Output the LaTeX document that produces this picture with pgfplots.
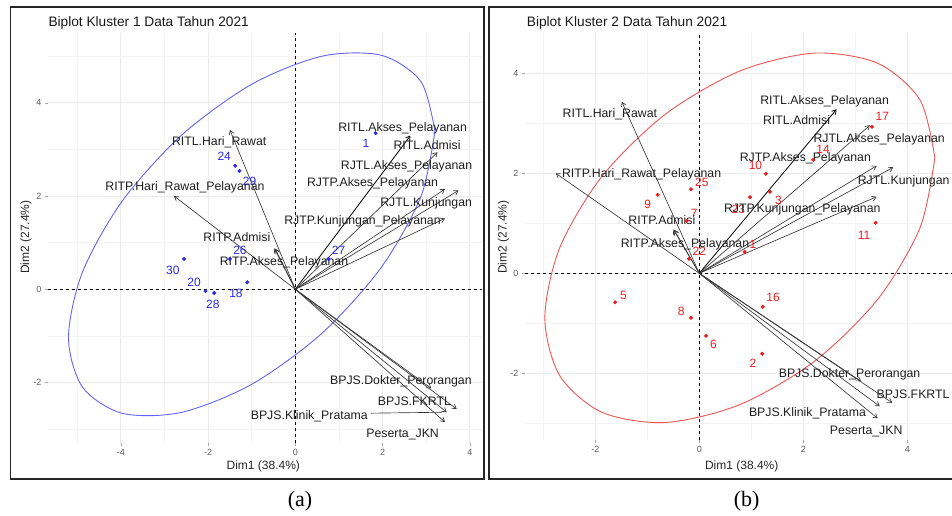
\documentclass[border=0pt]{standalone}
\usepackage{fontspec}
\setmainfont{Liberation Sans}
\newfontfamily\capfont{Liberation Serif}
\usepackage{pgfplots}
\pgfplotsset{compat=1.18}
\usetikzlibrary{arrows.meta}
\definecolor{c1pt}{RGB}{40,40,230}
\definecolor{c1el}{RGB}{100,100,245}
\definecolor{c2pt}{RGB}{235,30,30}
\definecolor{c2el}{RGB}{240,85,85}
\definecolor{arrc}{RGB}{55,55,55}
\definecolor{lblc}{RGB}{30,30,30}
\pgfplotsset{
  bip/.style={
    scale only axis, anchor=south west,
    axis line style={draw=none},
    tick pos=left, tick align=outside,
    major tick length=3pt, minor tick length=0pt,
    tick style={gray!70, line width=0.6pt},
    grid=both,
    major grid style={gray!16, line width=0.8pt},
    minor grid style={gray!9, line width=0.5pt},
    ticklabel style={font=\fontsize{9}{10}\selectfont, text=gray!70!black},
    /pgf/number format/assume math mode=true,
    clip=false,
    xtick={-4,-2,0,2,4}, ytick={-2,0,2,4},
    minor xtick={-5,-3,-1,1,3}, minor ytick={-3,-1,1,3,5},
  },
  arr/.style={arrc, line width=0.65pt, -{Straight Barb[length=4pt,width=5pt]}},
  arrk/.style={black, line width=0.8pt, -{Straight Barb[length=4pt,width=5pt]}},
  zl/.style={black, line width=0.8pt, dash pattern=on 3pt off 3pt},
}
\tikzset{
  lab/.style={font=\fontsize{12.3}{13}\selectfont, text=lblc, inner sep=0pt, anchor=base, yshift=-4.4pt},
  plab/.style={font=\fontsize{12}{13}\selectfont, inner sep=0pt, anchor=base, yshift=-4.3pt},
}
\begin{document}
\begin{tikzpicture}
\useasboundingbox (0pt,0pt) rectangle (952pt,515pt);
\draw[line width=1.2pt, black!85] (10.7pt,36pt) rectangle (484pt,508pt);
\draw[line width=1.2pt, black!85] (952pt,508pt) -- (489pt,508pt) -- (489pt,36pt) -- (952pt,36pt);

% ---------------- Panel (a) ----------------
\begin{axis}[bip, at={(48pt,72pt)}, width=434pt, height=410pt,
  xmin=-5.67, xmax=4.28, ymin=-3.3, ymax=5.5]
\addplot[zl] coordinates {(-5.67,0) (4.28,0)};
\addplot[zl] coordinates {(0,-3.3) (0,5.5)};
% confidence ellipse
\addplot[c1el, line width=0.9pt, smooth] coordinates {
(3.200,3.394) (2.880,4.458) (1.970,5.022) (0.607,5.002) (-1.000,4.400)
(-2.607,3.308) (-3.970,1.891) (-4.880,0.367) (-5.200,-1.034) (-4.880,-2.098)
(-3.970,-2.662) (-2.607,-2.642) (-1.000,-2.040) (0.607,-0.948) (1.970,0.469)
(2.880,1.993) (3.200,3.394)};
% variable arrows
\addplot[arr] coordinates {(0,0) (-1.50,3.42)};
\addplot[arr] coordinates {(0,0) (-2.78,2.00)};
\addplot[arr] coordinates {(0,0) (-0.48,0.88)};
\addplot[arr] coordinates {(0,0) (-0.46,0.86)};
\addplot[arrk] coordinates {(0,0) (2.64,3.30)};
\addplot[arr] coordinates {(0,0) (3.26,2.94)};
\addplot[arr] coordinates {(0,0) (3.43,2.15)};
\addplot[arr] coordinates {(0,0) (3.74,2.12)};
\addplot[arr] coordinates {(0,0) (3.43,1.52)};
\addplot[arr] coordinates {(0,0) (3.12,-2.13)};
\addplot[arr] coordinates {(0,0) (3.70,-2.57)};
\addplot[arr] coordinates {(0,0) (3.47,-2.64)};
\addplot[arr] coordinates {(0,0) (3.43,-2.85)};
\addplot[arrc, line width=0.65pt] coordinates {(1.73,-2.66) (3.36,-2.64)};
% individuals
\addplot[only marks, mark=*, mark size=1.8pt, c1pt] coordinates {
(1.84,3.35) (-1.38,2.65) (-1.28,2.54) (-2.55,0.65) (-2.06,-0.04)
(-1.86,-0.08) (-1.10,0.15) (-1.50,0.65) (0.76,0.65)};
\node[plab, text=c1pt] at (axis cs:1.62,3.13) {1};
\node[plab, text=c1pt] at (axis cs:-1.63,2.86) {24};
\node[plab, text=c1pt] at (axis cs:-1.05,2.32) {29};
\node[plab, text=c1pt] at (axis cs:-2.81,0.40) {30};
\node[plab, text=c1pt] at (axis cs:-2.32,0.16) {20};
\node[plab, text=c1pt] at (axis cs:-1.89,-0.33) {28};
\node[plab, text=c1pt] at (axis cs:-1.36,-0.09) {18};
\node[plab, text=c1pt] at (axis cs:-1.27,0.84) {26};
\node[plab, text=c1pt] at (axis cs:0.99,0.84) {27};
% variable labels
\node[lab] at (axis cs:-1.745,3.18) {RITL.Hari\_Rawat};
\node[lab] at (axis cs:-2.53,2.22) {RITP.Hari\_Rawat\_Pelayanan};
\node[lab] at (axis cs:-1.34,1.12) {RITP.Admisi};
\node[lab] at (axis cs:-0.26,0.61) {RITP.Akses\_Pelayanan};
\node[lab] at (axis cs:2.46,3.49) {RITL.Akses\_Pelayanan};
\node[lab] at (axis cs:3.02,3.09) {RITL.Admisi};
\node[lab] at (axis cs:2.55,2.67) {RJTL.Akses\_Pelayanan};
\node[lab] at (axis cs:1.77,2.29) {RJTP.Akses\_Pelayanan};
\node[lab] at (axis cs:3.00,1.86) {RJTL.Kunjungan};
\node[lab] at (axis cs:1.54,1.49) {RJTP.Kunjungan\_Pelayanan};
\node[lab] at (axis cs:2.42,-1.95) {BPJS.Dokter\_Perorangan};
\node[lab] at (axis cs:2.73,-2.41) {BPJS.FKRTL};
\node[lab] at (axis cs:0.32,-2.70) {BPJS.Klinik\_Pratama};
\node[lab] at (axis cs:2.46,-3.08) {Peserta\_JKN};
\end{axis}

% ---------------- Panel (b) ----------------
\begin{axis}[bip, at={(525pt,75pt)}, width=427pt, height=407pt,
  xmin=-3.352, xmax=4.86, ymin=-3.334, ymax=4.806,
  minor xtick={-3,-1,1,3}, minor ytick={-3,-1,1,3}]
\addplot[zl] coordinates {(-3.352,0) (4.86,0)};
\addplot[zl] coordinates {(0,-3.334) (0,4.806)};
\addplot[c2el, line width=0.9pt, smooth] coordinates {
(4.530,2.310) (4.245,3.465) (3.432,4.200) (2.215,4.404) (0.780,4.046)
(-0.655,3.180) (-1.872,1.938) (-2.685,0.509) (-2.970,-0.890) (-2.685,-2.045)
(-1.872,-2.780) (-0.655,-2.984) (0.780,-2.626) (2.215,-1.760) (3.432,-0.518)
(4.245,0.912) (4.530,2.310)};
\addplot[arr] coordinates {(0,0) (-1.49,3.43)};
\addplot[arr] coordinates {(0,0) (-2.76,2.00)};
\addplot[arr] coordinates {(0,0) (-0.50,0.88)};
\addplot[arr] coordinates {(0,0) (-0.48,0.86)};
\addplot[arrk] coordinates {(0,0) (2.64,3.28)};
\addplot[arr] coordinates {(0,0) (3.28,2.96)};
\addplot[arr] coordinates {(0,0) (3.41,2.15)};
\addplot[arr] coordinates {(0,0) (3.73,2.12)};
\addplot[arr] coordinates {(0,0) (3.41,1.53)};
\addplot[arr] coordinates {(0,0) (3.11,-2.16)};
\addplot[arr] coordinates {(0,0) (3.71,-2.59)};
\addplot[arr] coordinates {(0,0) (3.47,-2.66)};
\addplot[arr] coordinates {(0,0) (3.43,-2.90)};
\addplot[only marks, mark=*, mark size=1.8pt, c2pt] coordinates {
(3.32,2.93) (2.19,2.27) (1.28,1.99) (1.36,1.63) (0.975,1.52) (-0.16,1.68)
(-0.80,1.57) (-0.24,1.05) (3.39,1.01) (-0.20,0.29) (0.87,0.43)
(-1.62,-0.58) (-0.16,-0.89) (1.22,-0.67) (0.13,-1.25) (1.21,-1.61)};
\node[plab, text=c2pt] at (axis cs:3.52,3.15) {17};
\node[plab, text=c2pt] at (axis cs:2.38,2.48) {14};
\node[plab, text=c2pt] at (axis cs:1.08,2.17) {10};
\node[plab, text=c2pt] at (axis cs:1.52,1.47) {3};
\node[plab, text=c2pt] at (axis cs:0.75,1.29) {23};
\node[plab, text=c2pt] at (axis cs:0.05,1.83) {25};
\node[plab, text=c2pt] at (axis cs:-0.99,1.39) {9};
\node[plab, text=c2pt] at (axis cs:-0.10,1.21) {7};
\node[plab, text=c2pt] at (axis cs:3.17,0.77) {11};
\node[plab, text=c2pt] at (axis cs:0.00,0.45) {22};
\node[plab, text=c2pt] at (axis cs:1.03,0.58) {1};
\node[plab, text=c2pt] at (axis cs:-1.46,-0.43) {5};
\node[plab, text=c2pt] at (axis cs:-0.35,-0.75) {8};
\node[plab, text=c2pt] at (axis cs:1.42,-0.48) {16};
\node[plab, text=c2pt] at (axis cs:0.27,-1.42) {6};
\node[plab, text=c2pt] at (axis cs:1.03,-1.79) {2};
\node[lab] at (axis cs:-1.72,3.21) {RITL.Hari\_Rawat};
\node[lab] at (axis cs:-1.11,2.00) {RITP.Hari\_Rawat\_Pelayanan};
\node[lab] at (axis cs:-0.72,1.07) {RITP.Admisi};
\node[lab] at (axis cs:-0.275,0.61) {RITP.Akses\_Pelayanan};
\node[lab] at (axis cs:2.41,3.47) {RITL.Akses\_Pelayanan};
\node[lab] at (axis cs:1.87,3.07) {RITL.Admisi};
\node[lab] at (axis cs:3.46,2.70) {RJTL.Akses\_Pelayanan};
\node[lab] at (axis cs:2.04,2.33) {RJTP.Akses\_Pelayanan};
\node[lab] at (axis cs:3.93,1.87) {RJTL.Kunjungan};
\node[lab] at (axis cs:1.98,1.30) {RJTP.Kunjungan\_Pelayanan};
\node[lab] at (axis cs:2.89,-2.00) {BPJS.Dokter\_Perorangan};
\node[lab] at (axis cs:4.11,-2.41) {BPJS.FKRTL};
\node[lab] at (axis cs:2.08,-2.78) {BPJS.Klinik\_Pratama};
\node[lab] at (axis cs:3.21,-3.13) {Peserta\_JKN};
\end{axis}

% titles and axis titles
\node[anchor=base west, inner sep=0pt, font=\fontsize{13.7}{15}\selectfont, text=black!90] at (48.3pt,488.4pt) {Biplot Kluster 1 Data Tahun 2021};
\node[anchor=base west, inner sep=0pt, font=\fontsize{13.7}{15}\selectfont, text=black!90] at (526.7pt,488.4pt) {Biplot Kluster 2 Data Tahun 2021};
\node[inner sep=0pt, font=\fontsize{12}{13}\selectfont, text=black!85] at (263.3pt,48.3pt) {Dim1 (38.4\%)};
\node[inner sep=0pt, font=\fontsize{12}{13}\selectfont, text=black!85] at (741.7pt,48.3pt) {Dim1 (38.4\%)};
\node[inner sep=0pt, rotate=90, font=\fontsize{12}{13}\selectfont, text=black!85] at (26pt,278pt) {Dim2 (27.4\%)};
\node[inner sep=0pt, rotate=90, font=\fontsize{12}{13}\selectfont, text=black!85] at (503.5pt,278pt) {Dim2 (27.4\%)};
\node[inner sep=0pt, font=\capfont\fontsize{22}{24}\selectfont] at (300pt,13.3pt) {(a)};
\node[inner sep=0pt, font=\capfont\fontsize{22}{24}\selectfont] at (746.7pt,13.3pt) {(b)};
\end{tikzpicture}
\end{document}
